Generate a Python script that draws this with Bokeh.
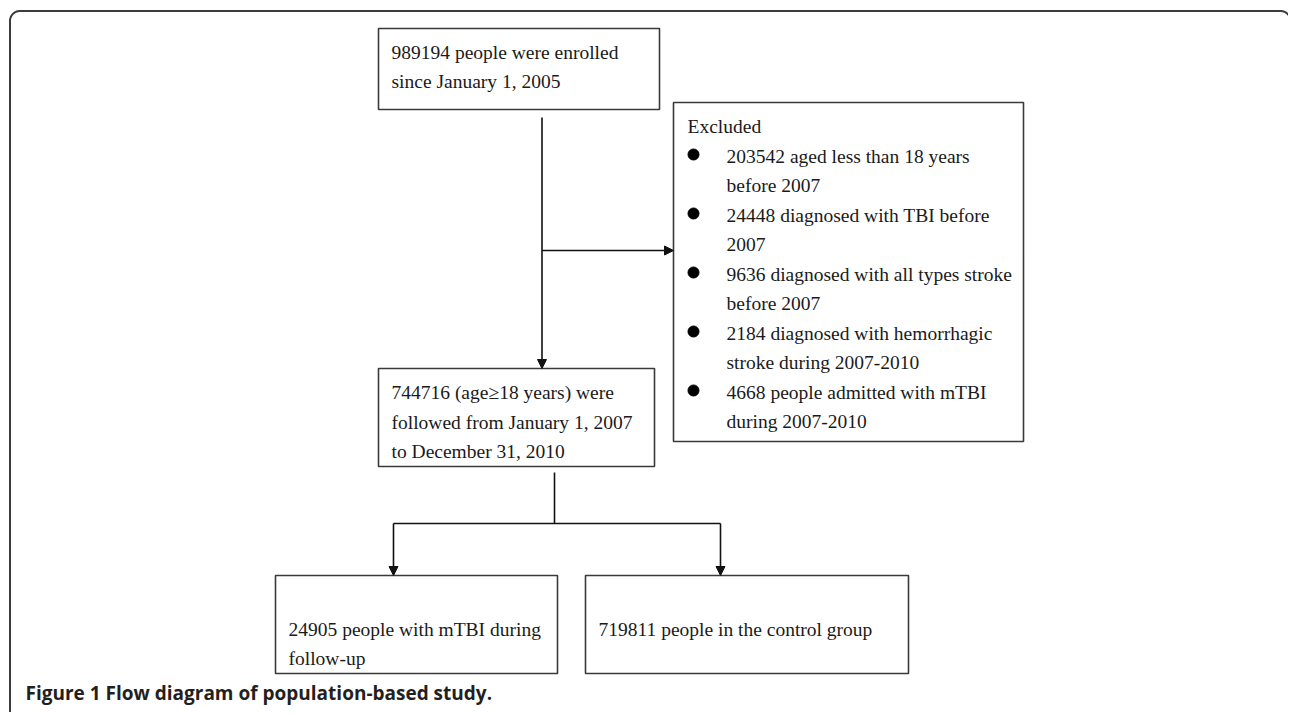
import numpy as np
from bokeh.plotting import figure
from bokeh.models import Range1d, Arrow, NormalHead, ColumnDataSource
from bokeh.core.properties import value
from bokeh.embed import file_html
from bokeh.resources import INLINE

# ---------------- data ----------------
enrolled = 989194
enrolled_since = "January 1, 2005"
excluded_counts = [203542, 24448, 9636, 2184, 4668]
excluded_reasons = [
    ("aged less than 18 years", "before 2007"),
    ("diagnosed with TBI before", "2007"),
    ("diagnosed with all types stroke", "before 2007"),
    ("diagnosed with hemorrhagic", "stroke during 2007-2010"),
    ("people admitted with mTBI", "during 2007-2010"),
]
followed = 744716
follow_lines = ["(age\u226518 years) were", "followed from January 1, 2007", "to December 31, 2010"]
mtbi_group = 24905
control_group = 719811
caption = "Figure 1 Flow diagram of population-based study."

# ---------------- layout (screen pixel coordinates) ----------------
W, H = 1288, 712
p = figure(width=W, height=H, output_backend="svg", toolbar_location=None,
           x_range=Range1d(0, W), y_range=Range1d(H, 0),
           min_border=0)
p.axis.visible = False
p.grid.visible = False
p.outline_line_color = None
p.background_fill_color = "white"
p.border_fill_color = "white"

SERIF = value("Liberation Serif")
FS = "19.5px"
TXT = "#1a1a1a"
BOX = "#3a3a3a"
LINE = "#111111"
DY = -5  # baseline correction

# outer frame with rounded corners
r = 10
t1 = np.linspace(np.pi, 1.5 * np.pi, 20)
t2 = np.linspace(1.5 * np.pi, 2 * np.pi, 20)
fx = np.concatenate([[9.5], 9.5 + r + r * np.cos(t1), 1290 - r + r * np.cos(t2), [1290]])
fy = np.concatenate([[730], 10.5 + r + r * np.sin(t1), 10.5 + r + r * np.sin(t2), [730]])
p.line(fx, fy, line_color="#3c3c3c", line_width=2)

# boxes
boxes = dict(left=[378, 673, 378, 275, 585],
             right=[659, 1023, 654, 557, 908],
             top=[28, 102, 368, 575, 575],
             bottom=[109, 441, 466, 673, 673])
p.quad(source=ColumnDataSource(boxes), left="left", right="right", top="top", bottom="bottom",
       fill_color=None, line_color=BOX, line_width=1.6)

def txt(x, y, s, font=SERIF, size=FS, style="normal", color=TXT):
    p.text(x=[x], y=[y + DY], text=[s], text_font=font, text_font_size=size,
           text_font_style=style, text_color=color, text_baseline="alphabetic",
           text_align="left")

# top box
txt(391, 57, f"{enrolled} people were enrolled")
txt(391, 85.5, f"since {enrolled_since}")

# excluded box
step = 29.5
txt(687, 131, "Excluded")
y = 131 + step
bullet_y = []
for cnt, (a, b) in zip(excluded_counts, excluded_reasons):
    txt(726, y, f"{cnt} {a}")
    bullet_y.append(y - 6.5)
    y += step
    txt(726, y, b)
    y += step
p.scatter(x=[693] * len(bullet_y), y=bullet_y, size=11, marker="circle",
          fill_color="black", line_color="black")

# middle box
lines_mid = [f"{followed} {follow_lines[0]}"] + follow_lines[1:]
for i, s in enumerate(lines_mid):
    txt(391, 397 + i * 29.5, s)

# bottom boxes
txt(288, 634, f"{mtbi_group} people with mTBI during")
txt(288, 662.5, "follow-up")
txt(598, 633.5, f"{control_group} people in the control group")

# connectors
p.line([554, 554], [472, 523], line_color=LINE, line_width=1.6)
p.line([393, 720], [523, 523], line_color=LINE, line_width=1.6)

def arrow(x0, y0, x1, y1):
    p.add_layout(Arrow(end=NormalHead(size=9, fill_color=LINE, line_color=LINE, line_width=1),
                       x_start=x0, y_start=y0, x_end=x1, y_end=y1,
                       line_color=LINE, line_width=1.6))

arrow(541.5, 117, 541.5, 368)
arrow(541.5, 250, 673, 250)
arrow(393, 523, 393, 575)
arrow(720, 523, 720, 575)

# caption
txt(25, 697, caption, font=value("Open Sans"), size="19px", style="bold", color="#231f20")

open("out.html", "w").write(file_html(p, INLINE))
